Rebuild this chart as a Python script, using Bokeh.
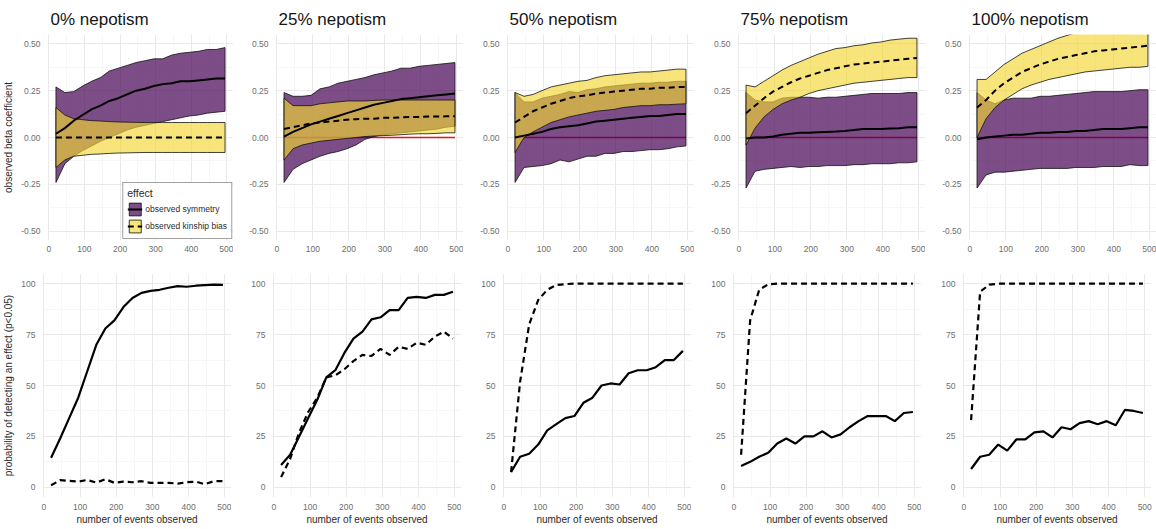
from bokeh.plotting import figure
from bokeh.layouts import column, row
from bokeh.models import Range1d, FixedTicker, Legend, LegendItem
from bokeh.embed import file_html
from bokeh.resources import INLINE

FONT = "Liberation Sans"

# ---------------- data ----------------
panel_titles = ["0% nepotism", "25% nepotism", "50% nepotism", "75% nepotism", "100% nepotism"]
events = [20, 45, 70, 95, 120, 145, 170, 195, 220, 245, 270, 295, 320, 345, 370, 395, 420, 445, 470, 495]
true_symmetry = 0.0
show_true_line = [False, True, True, True, True]

# observed symmetry (mean and interval) per panel
sym_mean = [
    [0.02, 0.05, 0.09, 0.12, 0.15, 0.17, 0.195, 0.21, 0.23, 0.25, 0.26, 0.275, 0.285, 0.29, 0.30, 0.30, 0.305, 0.31, 0.315, 0.315],
    [0.005, 0.03, 0.05, 0.07, 0.085, 0.10, 0.115, 0.13, 0.145, 0.16, 0.175, 0.185, 0.195, 0.205, 0.21, 0.215, 0.22, 0.225, 0.23, 0.235],
    [0.0, 0.01, 0.02, 0.03, 0.045, 0.055, 0.06, 0.065, 0.075, 0.085, 0.09, 0.095, 0.10, 0.105, 0.11, 0.115, 0.115, 0.12, 0.125, 0.125],
    [-0.005, 0.0, 0.0, 0.005, 0.015, 0.02, 0.025, 0.025, 0.028, 0.03, 0.032, 0.035, 0.04, 0.045, 0.045, 0.045, 0.048, 0.05, 0.055, 0.055],
    [-0.01, 0.0, 0.005, 0.01, 0.015, 0.015, 0.02, 0.025, 0.025, 0.03, 0.03, 0.035, 0.035, 0.04, 0.045, 0.045, 0.045, 0.05, 0.055, 0.055],
]
sym_upper = [
    [0.27, 0.24, 0.245, 0.275, 0.30, 0.32, 0.355, 0.37, 0.385, 0.40, 0.41, 0.42, 0.42, 0.44, 0.45, 0.455, 0.46, 0.47, 0.47, 0.48],
    [0.24, 0.22, 0.22, 0.225, 0.26, 0.27, 0.29, 0.30, 0.31, 0.32, 0.335, 0.345, 0.355, 0.37, 0.37, 0.38, 0.385, 0.39, 0.395, 0.40],
    [0.24, 0.19, 0.19, 0.21, 0.22, 0.23, 0.245, 0.24, 0.255, 0.26, 0.27, 0.275, 0.28, 0.285, 0.29, 0.29, 0.295, 0.295, 0.30, 0.30],
    [0.24, 0.20, 0.19, 0.19, 0.21, 0.215, 0.215, 0.215, 0.21, 0.215, 0.215, 0.22, 0.225, 0.23, 0.235, 0.235, 0.235, 0.235, 0.24, 0.24],
    [0.24, 0.20, 0.18, 0.20, 0.21, 0.21, 0.21, 0.22, 0.22, 0.225, 0.23, 0.235, 0.24, 0.245, 0.245, 0.245, 0.245, 0.25, 0.255, 0.255],
]
sym_lower = [
    [-0.24, -0.14, -0.10, -0.07, -0.045, -0.02, 0.0, 0.02, 0.04, 0.055, 0.065, 0.075, 0.085, 0.095, 0.105, 0.115, 0.12, 0.13, 0.135, 0.14],
    [-0.24, -0.17, -0.14, -0.12, -0.10, -0.085, -0.075, -0.06, -0.04, -0.01, 0.005, 0.015, 0.02, 0.025, 0.03, 0.035, 0.04, 0.045, 0.055, 0.06],
    [-0.24, -0.16, -0.155, -0.15, -0.14, -0.12, -0.13, -0.115, -0.10, -0.10, -0.085, -0.085, -0.075, -0.075, -0.07, -0.065, -0.065, -0.06, -0.05, -0.045],
    [-0.27, -0.18, -0.17, -0.165, -0.16, -0.155, -0.16, -0.155, -0.155, -0.15, -0.15, -0.15, -0.145, -0.145, -0.14, -0.14, -0.14, -0.135, -0.135, -0.13],
    [-0.27, -0.20, -0.185, -0.185, -0.18, -0.175, -0.17, -0.165, -0.165, -0.165, -0.165, -0.16, -0.16, -0.16, -0.155, -0.155, -0.155, -0.145, -0.15, -0.15],
]

# observed kinship bias (mean and interval) per panel
kin_mean = [
    [0.0, 0.0, 0.0, 0.0, 0.0, 0.0, 0.0, 0.0, 0.0, 0.0, 0.0, 0.0, 0.0, 0.0, 0.0, 0.0, 0.0, 0.0, 0.0, 0.0],
    [0.045, 0.055, 0.065, 0.075, 0.08, 0.085, 0.09, 0.095, 0.098, 0.10, 0.10, 0.105, 0.105, 0.108, 0.11, 0.11, 0.112, 0.112, 0.113, 0.113],
    [0.08, 0.11, 0.14, 0.16, 0.18, 0.195, 0.21, 0.22, 0.225, 0.235, 0.24, 0.245, 0.25, 0.255, 0.26, 0.26, 0.265, 0.265, 0.27, 0.27],
    [0.13, 0.17, 0.21, 0.245, 0.27, 0.295, 0.315, 0.33, 0.345, 0.36, 0.37, 0.38, 0.39, 0.395, 0.40, 0.405, 0.41, 0.415, 0.42, 0.425],
    [0.16, 0.20, 0.25, 0.29, 0.32, 0.35, 0.37, 0.39, 0.405, 0.42, 0.43, 0.44, 0.45, 0.46, 0.465, 0.47, 0.475, 0.48, 0.485, 0.49],
]
kin_upper = [
    [0.16, 0.12, 0.10, 0.095, 0.09, 0.088, 0.085, 0.083, 0.082, 0.081, 0.08, 0.08, 0.08, 0.08, 0.08, 0.08, 0.08, 0.08, 0.08, 0.08],
    [0.21, 0.17, 0.17, 0.17, 0.18, 0.185, 0.19, 0.195, 0.195, 0.195, 0.198, 0.20, 0.20, 0.20, 0.20, 0.20, 0.20, 0.20, 0.20, 0.20],
    [0.24, 0.22, 0.23, 0.25, 0.27, 0.28, 0.29, 0.30, 0.305, 0.32, 0.33, 0.335, 0.34, 0.345, 0.35, 0.35, 0.355, 0.36, 0.365, 0.365],
    [0.28, 0.27, 0.30, 0.33, 0.36, 0.385, 0.405, 0.425, 0.445, 0.46, 0.475, 0.48, 0.49, 0.495, 0.505, 0.51, 0.52, 0.525, 0.53, 0.53],
    [0.31, 0.31, 0.35, 0.39, 0.42, 0.45, 0.47, 0.49, 0.51, 0.53, 0.545, 0.56, 0.57, 0.58, 0.59, 0.60, 0.605, 0.61, 0.615, 0.62],
]
kin_lower = [
    [-0.16, -0.12, -0.10, -0.095, -0.09, -0.088, -0.085, -0.083, -0.082, -0.081, -0.08, -0.08, -0.08, -0.08, -0.08, -0.08, -0.08, -0.08, -0.08, -0.08],
    [-0.12, -0.06, -0.04, -0.03, -0.02, -0.015, -0.01, -0.005, 0.0, 0.005, 0.008, 0.01, 0.012, 0.015, 0.018, 0.02, 0.02, 0.022, 0.025, 0.025],
    [-0.08, 0.0, 0.03, 0.055, 0.08, 0.095, 0.11, 0.12, 0.13, 0.14, 0.145, 0.15, 0.16, 0.165, 0.17, 0.17, 0.175, 0.175, 0.178, 0.18],
    [-0.04, 0.05, 0.11, 0.15, 0.18, 0.20, 0.215, 0.235, 0.25, 0.26, 0.27, 0.28, 0.29, 0.295, 0.30, 0.305, 0.31, 0.315, 0.32, 0.32],
    [0.0, 0.10, 0.16, 0.20, 0.23, 0.26, 0.28, 0.295, 0.31, 0.32, 0.33, 0.34, 0.35, 0.355, 0.36, 0.365, 0.37, 0.375, 0.375, 0.38],
]

# probability of detecting an effect (%) per panel
power_sym = [
    [14.5, 24, 34, 44, 57, 70, 78, 82, 88.5, 93, 95.5, 96.5, 97, 98, 98.8, 98.5, 99, 99.3, 99.5, 99.4],
    [11, 16, 25, 34, 43, 54, 57.5, 66, 73, 76.5, 82.5, 83.5, 87, 87, 93, 93.5, 93, 94.5, 94.5, 96],
    [7.5, 15, 16.5, 21, 28, 31, 34, 35, 41.5, 44, 50, 51, 50.5, 56, 57.5, 57.5, 59, 62.5, 62.5, 67],
    [10.5, 12.5, 15, 17, 21.5, 24, 21.5, 25, 25, 27.5, 24.5, 26, 29.5, 32.5, 35, 35, 35, 32.5, 36.5, 37],
    [9, 15, 16, 21, 18, 23.5, 23.5, 27, 27.5, 24.5, 29.5, 28.5, 31.5, 32.5, 31, 32.5, 30.5, 38, 37.5, 36.5],
]
power_kin = [
    [1, 3.5, 3.2, 2.8, 3.6, 2.3, 4.0, 2.2, 2.8, 2.5, 3.0, 2.2, 2.2, 2.2, 1.8, 2.5, 2.8, 1.5, 3.0, 3.0],
    [5, 14, 27, 37, 44, 54, 55, 58, 62, 65, 64.5, 68, 65, 69, 68, 71, 70, 74, 76.5, 73],
    [7.5, 52, 80, 92, 97, 99.3, 99.8, 100, 100, 100, 100, 100, 100, 100, 100, 100, 100, 100, 100, 100],
    [16, 82, 97, 99.7, 100, 100, 100, 100, 100, 100, 100, 100, 100, 100, 100, 100, 100, 100, 100, 100],
    [33, 96, 99.5, 100, 100, 100, 100, 100, 100, 100, 100, 100, 100, 100, 100, 100, 100, 100, 100, 100],
]

x_ticks = [0, 100, 200, 300, 400, 500]
x_minor = [50, 150, 250, 350, 450]
beta_ticks = [-0.5, -0.25, 0.0, 0.25, 0.5]
beta_labels = ["-0.50", "-0.25", "0.00", "0.25", "0.50"]
beta_minor = [-0.375, -0.125, 0.125, 0.375]
prob_ticks = [0, 25, 50, 75, 100]
prob_minor = [12.5, 37.5, 62.5, 87.5]

# ---------------- styling ----------------
PURPLE = "#440154"
YELLOW = "#F2D734"
TICK_COLOR = "#6e6e6e"
TEXT_COLOR = "#2b2b2b"

top_widths = [233, 230, 231, 231, 231]
top_left = [45, 42, 43, 43, 43]
bot_widths = [231, 230, 230, 230, 235]
bot_left = [42, 41, 41, 41, 41]
bot_right = [0, 0, 0, 0, 5]


def style(p, yticks, yminor, ylabels=None):
    p.outline_line_color = None
    p.background_fill_color = "white"
    p.border_fill_color = "white"
    p.xaxis.ticker = FixedTicker(ticks=x_ticks, minor_ticks=x_minor)
    p.yaxis.ticker = FixedTicker(ticks=yticks, minor_ticks=yminor)
    if ylabels:
        p.yaxis.major_label_overrides = {t: l for t, l in zip(yticks, ylabels)}
    for ax in (p.xaxis, p.yaxis):
        ax.axis_line_color = None
        ax.major_tick_line_color = None
        ax.minor_tick_line_color = None
        ax.major_tick_out = 0
        ax.major_tick_in = 0
        ax.major_label_text_font = FONT
        ax.major_label_text_font_size = "8.5px"
        ax.major_label_text_color = TICK_COLOR
        ax.axis_label_text_font = FONT
        ax.axis_label_text_font_size = "10px"
        ax.axis_label_text_font_style = "normal"
        ax.axis_label_text_color = TEXT_COLOR
    p.xaxis.major_label_standoff = 1
    p.yaxis.major_label_standoff = 3
    for g in (p.xgrid, p.ygrid):
        g.grid_line_color = "#e9e9e9"
        g.grid_line_width = 1
        g.minor_grid_line_color = "#f4f4f4"
        g.minor_grid_line_width = 0.7


top_figs = []
bot_figs = []
for i in range(5):
    # ---- top panel: observed beta coefficients ----
    p = figure(width=top_widths[i], height=254, output_backend="svg", toolbar_location=None,
               x_range=Range1d(-3.75, 518.75), y_range=Range1d(-0.55, 0.55),
               min_border_left=top_left[i], min_border_right=0,
               min_border_top=34, min_border_bottom=14, title=panel_titles[i])
    style(p, beta_ticks, beta_minor, beta_labels)
    p.title.text_font = FONT
    p.title.text_font_size = "17px"
    p.title.text_font_style = "normal"
    p.title.text_color = "#151515"
    p.title.align = "left"
    p.title.offset = 3
    p.title.standoff = 12
    if i == 0:
        p.yaxis.axis_label = "observed beta coefficient"
        p.yaxis.axis_label_standoff = 4

    if show_true_line[i]:
        p.segment(x0=[events[0]], x1=[events[-1]], y0=[true_symmetry], y1=[true_symmetry],
                  line_color="#e8141c", line_width=1.6)

    sp = p.patch(events + events[::-1], sym_upper[i] + sym_lower[i][::-1],
                 fill_color=PURPLE, fill_alpha=0.7, line_color="#111111", line_width=0.8)
    kp = p.patch(events + events[::-1], kin_upper[i] + kin_lower[i][::-1],
                 fill_color=YELLOW, fill_alpha=0.65, line_color="#111111", line_width=0.8)
    sl = p.line(events, sym_mean[i], line_color="black", line_width=2)
    kl = p.line(events, kin_mean[i], line_color="black", line_width=2, line_dash="6 4")

    if i == 0:
        legend = Legend(items=[LegendItem(label="observed symmetry", renderers=[sp, sl]),
                               LegendItem(label="observed kinship bias", renderers=[kp, kl])],
                        location="bottom_right", title="effect")
        legend.title_text_font = FONT
        legend.title_text_font_size = "10.5px"
        legend.title_text_font_style = "normal"
        legend.title_text_color = TEXT_COLOR
        legend.title_standoff = 2
        legend.label_text_font = FONT
        legend.label_text_font_size = "8.5px"
        legend.label_text_color = TEXT_COLOR
        legend.glyph_width = 15
        legend.glyph_height = 16
        legend.label_height = 16
        legend.label_standoff = 3
        legend.spacing = 1
        legend.padding = 4
        legend.margin = 1
        legend.border_line_color = "#444444"
        legend.border_line_width = 1.5
        legend.background_fill_color = "white"
        legend.background_fill_alpha = 1
        p.add_layout(legend)
    top_figs.append(p)

    # ---- bottom panel: probability of detecting an effect ----
    q = figure(width=bot_widths[i], height=275, output_backend="svg", toolbar_location=None,
               x_range=Range1d(-3.75, 518.75), y_range=Range1d(-5, 105),
               min_border_left=bot_left[i], min_border_right=bot_right[i],
               min_border_top=19, min_border_bottom=32)
    style(q, prob_ticks, prob_minor)
    q.xaxis.major_label_standoff = 2
    q.xaxis.axis_label = "number of events observed"
    q.xaxis.axis_label_standoff = 1
    if i == 0:
        q.yaxis.axis_label = "probability of detecting an effect (p<0.05)"
        q.yaxis.axis_label_standoff = 4
    q.line(events, power_sym[i], line_color="black", line_width=2.2)
    q.line(events, power_kin[i], line_color="black", line_width=2.2, line_dash="6 4")
    bot_figs.append(q)

layout = column(row(*top_figs, spacing=0), row(*bot_figs, spacing=0), spacing=0)

with open("out.html", "w") as f:
    f.write(file_html(layout, INLINE))
